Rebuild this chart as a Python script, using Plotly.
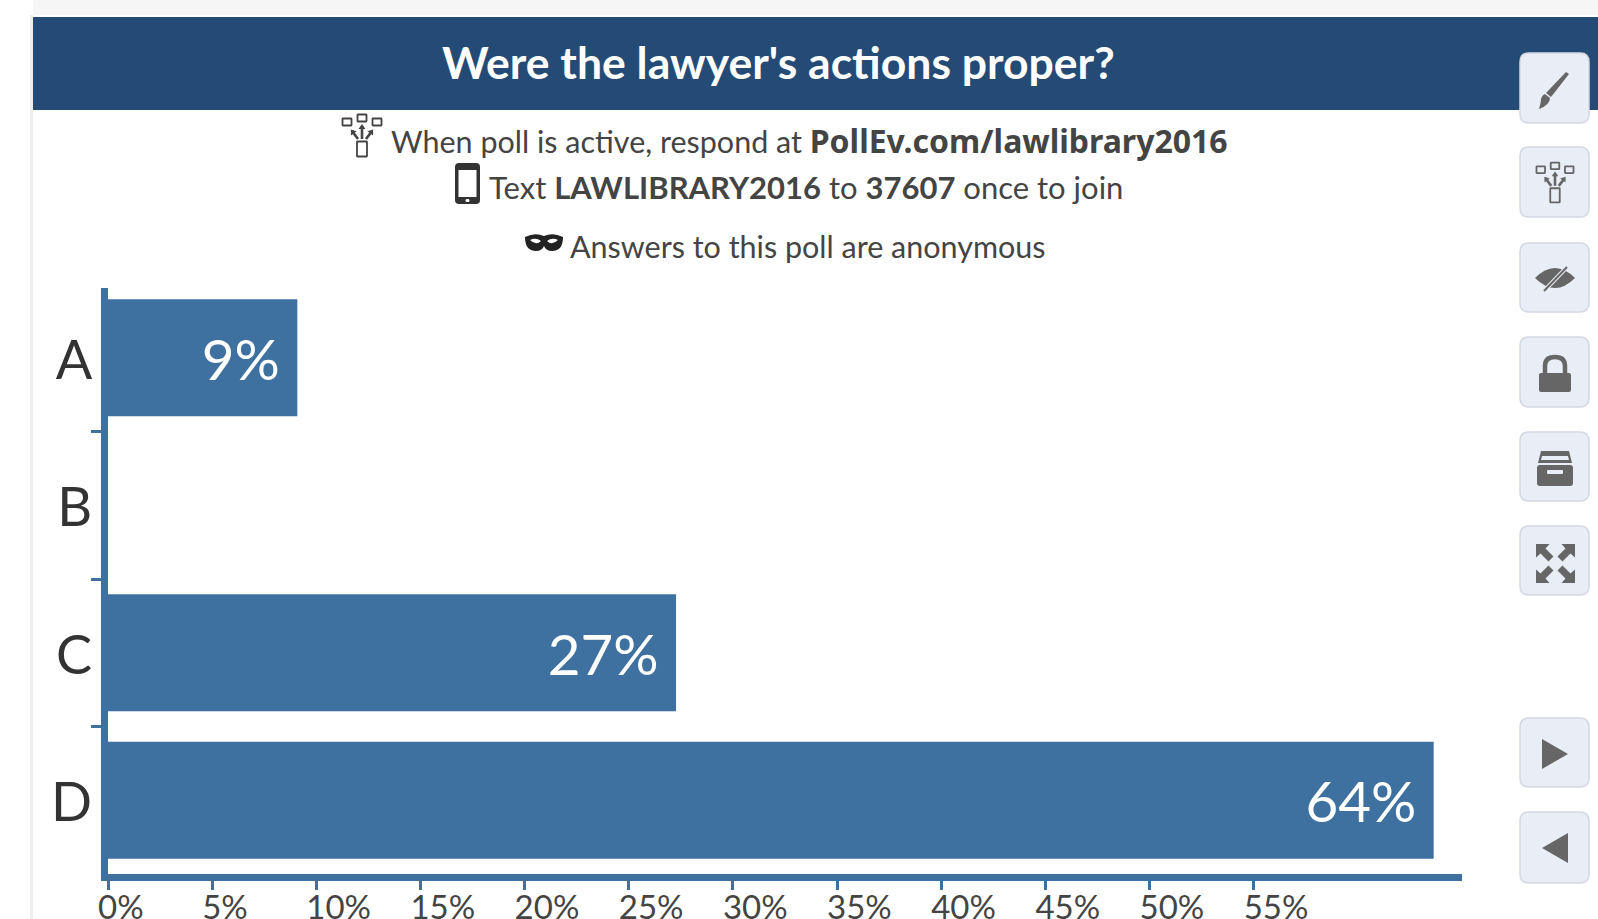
import re
import plotly.graph_objects as go

# ---- data ----
categories = ["A", "B", "C", "D"]
values = [9.09, 0, 27.27, 63.64]
bar_labels = ["9%", "", "27%", "64%"]
x_tick_vals = [0, 5, 10, 15, 20, 25, 30, 35, 40, 45, 50, 55]
x_tick_text = ["0%", "5%", "10%", "15%", "20%", "25%", "30%", "35%", "40%", "45%", "50%", "55%"]
title_text = "Were the lawyer's actions proper?"
line1 = "When poll is active, respond at <b style='font-family:Noto Sans;font-size:32px'>PollEv.com/lawlibrary2016</b>"
line2 = "Text <b>LAWLIBRARY2016</b> to <b>37607</b> once to join"
line3 = "Answers to this poll are anonymous"

W, H = 1598, 919
FONT = "Lato"
BAR = "#3e71a0"
HEAD = "#244b76"
TXT = "#444444"
ICON = "#666666"


def P(path):
    """Pixel path (absolute M/L/C/Q/Z) to paper coordinates."""
    toks = re.findall(r"[MLCQZ]|-?\d+\.?\d*", path)
    out, isx = [], True
    for t in toks:
        if t in "MLCQZ":
            out.append(t)
            isx = True
        else:
            v = float(t)
            out.append(f"{v / W:.5f}" if isx else f"{1 - v / H:.5f}")
            isx = not isx
    return " ".join(out)


def rr(x0, y0, x1, y1, r):
    return (f"M {x0+r} {y0} L {x1-r} {y0} Q {x1} {y0} {x1} {y0+r} L {x1} {y1-r} Q {x1} {y1} {x1-r} {y1} "
            f"L {x0+r} {y1} Q {x0} {y1} {x0} {y1-r} L {x0} {y0+r} Q {x0} {y0} {x0+r} {y0} Z")


shapes = []


def add(path, fill=None, line=None, lw=0):
    shapes.append(dict(type="path", xref="paper", yref="paper", layer="above", path=P(path),
                       fillcolor=fill or "rgba(0,0,0,0)",
                       line=dict(color=line or "rgba(0,0,0,0)", width=lw)))


def net(cx, cy, s, col):
    """Network / responses icon centred on cx, cy."""
    def box(x, y, w, h):
        add(rr(cx+s*(x-w/2), cy+s*(y-h/2), cx+s*(x+w/2), cy+s*(y+h/2), 0.5), None, col, 1.8)
    box(0, -18, 9, 7)
    box(-15, -14, 9, 7)
    box(15, -14, 9, 7)
    box(0, 13, 10, 15)
    for x0, y0, x1, y1 in [(0, 3, 0, -10), (-4, 3, -10, -5), (4, 3, 10, -5)]:
        add(f"M {cx+s*x0} {cy+s*y0} L {cx+s*x1} {cy+s*y1}", None, col, 2.6)
        dx, dy = x1-x0, y1-y0
        n = (dx*dx+dy*dy)**0.5
        ux, uy = dx/n, dy/n
        add(f"M {cx+s*(x1+ux*2)} {cy+s*(y1+uy*2)} L {cx+s*(x1-ux*3-uy*3.5)} {cy+s*(y1-uy*3+ux*3.5)} "
            f"L {cx+s*(x1-ux*3+uy*3.5)} {cy+s*(y1-uy*3-ux*3.5)} Z", col)


# page / card edges
add(f"M 33 0 L {W} 0 L {W} 15 L 33 15 Z", "#f6f6f6")
add(f"M 30 15 L 33 15 L 33 {H} L 30 {H} Z", "#eeeeee")
add(f"M 33 17 L {W} 17 L {W} 110 L 33 110 Z", HEAD)

# buttons
btn_rows = [(53, 123), (147, 217), (243, 312), (337, 407), (432, 501), (526, 595), (718, 787), (812, 883)]
for y0, y1 in btn_rows:
    add(rr(1520, y0, 1589, y1, 9), "#e9edf5", "#d3d8e2", 1.5)

# brush
add("M 1566 72 L 1569 74 L 1551 97 L 1546 93 Z", ICON)
add("M 1545 94 L 1550 98 Q 1550 105 1539 109 Q 1541 102 1541 99 Q 1542 95 1545 94 Z", ICON)
# network in button
net(1555, 183, 0.95, ICON)
# crossed eye
add("M 1535 278 Q 1555 258 1575 278 Q 1555 298 1535 278 Z", ICON)
add("M 1568 266 L 1543 292", None, "#e9edf5", 4)
add("M 1567 267 L 1544 291", None, ICON, 2)
# lock
add(rr(1539, 373, 1571, 392, 2), ICON)
add("M 1545 374 L 1545 366 Q 1545 357 1555 357 Q 1565 357 1565 366 L 1565 374", None, ICON, 4.5)
# archive box
add(rr(1537, 465, 1573, 486, 3), ICON)
add("M 1538 463 L 1541 451 L 1569 451 L 1572 463 Z", ICON)
add("M 1542 456 L 1568 456 L 1569 460 L 1541 460 Z", "#e9edf5")
add(rr(1547, 470, 1563, 474, 1), "#e9edf5")
# expand arrows
for sx, sy in [(-1, -1), (1, -1), (-1, 1), (1, 1)]:
    cx, cy = 1555.5, 563.5
    add(f"M {cx+sx*19.5} {cy+sy*19.5} L {cx+sx*6} {cy+sy*19.5} L {cx+sx*10} {cy+sy*15} L {cx+sx*2} {cy+sy*7} "
        f"L {cx+sx*7} {cy+sy*2} L {cx+sx*15} {cy+sy*10} L {cx+sx*19.5} {cy+sy*6} Z", ICON)
# play / back
add("M 1542 739 L 1568 754 L 1542 769 Z", ICON)
add("M 1568 833 L 1542 848 L 1568 863 Z", ICON)

# network icon beside first line
net(362, 136, 1.0, "#444444")
# phone
add(rr(455, 163, 480, 204, 4), "#333333")
add("M 458.5 170 L 476.5 170 L 476.5 197 L 458.5 197 Z", "#ffffff")
add(rr(465.5, 199, 469.5, 202, 1.5), "#ffffff")
# mask
add("M 525 237 Q 535 232 544 236 Q 553 232 563 237 Q 563 251 552 251 Q 546 251 544 246 Q 542 251 536 251 "
    "Q 525 251 525 237 Z", "#222222")
add("M 530 240 Q 536 237 541 241 Q 536 246 530 240 Z", "#ffffff")
add("M 547 241 Q 552 237 558 240 Q 552 246 547 241 Z", "#ffffff")

annotations = [
    dict(text=title_text, x=778/W, y=1-61/H, xanchor="center", yanchor="middle",
         font=dict(family=FONT, size=44.5, color="#ffffff", weight="bold")),
    dict(text=line1, x=389/W, y=1-140/H, xanchor="left", yanchor="middle", font=dict(family=FONT, size=30.5, color=TXT)),
    dict(text=line2, x=487/W, y=1-187/H, xanchor="left", yanchor="middle", font=dict(family=FONT, size=31, color=TXT)),
    dict(text=line3, x=568/W, y=1-246/H, xanchor="left", yanchor="middle", font=dict(family=FONT, size=30.5, color=TXT)),
]
for a in annotations:
    a.update(xref="paper", yref="paper", showarrow=False)

fig = go.Figure(go.Bar(
    x=values, y=categories, orientation="h", marker=dict(color=BAR, line=dict(width=0)),
    text=[t + "\u00a0" if t else "" for t in bar_labels], textposition="inside", insidetextanchor="end", textangle=0,
    insidetextfont=dict(family=FONT, size=56.5, color="#ffffff"),
    cliponaxis=False, hoverinfo="skip",
))
fig.update_layout(
    width=W, height=H, autosize=False, margin=dict(l=0, r=0, t=0, b=0),
    paper_bgcolor="#ffffff", plot_bgcolor="#ffffff", showlegend=False, bargap=0.207,
    shapes=shapes, annotations=annotations,
    xaxis=dict(domain=[108/W, 1462/W], range=[0, 65], tickmode="array", tickvals=x_tick_vals, ticktext=x_tick_text,
               automargin=False, showgrid=False, zeroline=False, showline=True, linecolor=BAR, linewidth=7,
               ticks="outside", ticklen=9, tickwidth=3, tickcolor=BAR,
               ticklabelposition="outside right", ticklabelshift=-15, ticklabelstandoff=-2,
               tickfont=dict(family=FONT, size=33, color=TXT)),
    yaxis=dict(domain=[1-874/H, 1-288/H], range=[3.5, -0.473], type="category", categoryorder="array",
               categoryarray=categories, tickson="boundaries", automargin=False, showgrid=False, zeroline=False,
               showline=True, linecolor=BAR, linewidth=7, ticks="outside", ticklen=10, tickwidth=3, tickcolor=BAR,
               ticklabelstandoff=-2, ticklabelshift=-2,
               tickfont=dict(family=FONT, size=54, color="#333333")),
)
fig.write_html("out.html", config=dict(displayModeBar=False),
               post_script="document.body.style.margin='0';document.body.style.overflow='hidden';")
